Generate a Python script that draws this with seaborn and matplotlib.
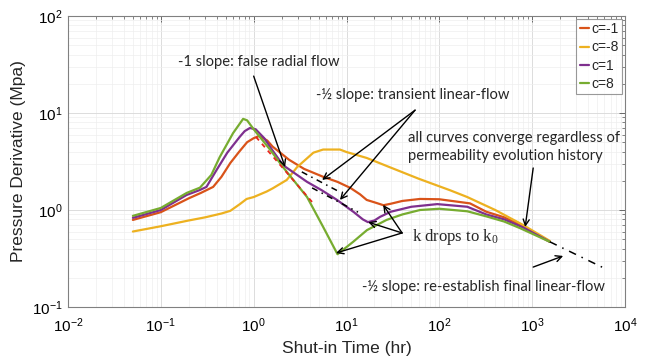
import numpy as np
import pandas as pd
import matplotlib
matplotlib.use("Agg")
import matplotlib.pyplot as plt
import seaborn as sns

# ---- data ----
t_cm1 = [0.05, 0.1, 0.2, 0.27, 0.366, 0.45, 0.56, 0.7, 0.85, 1.0, 1.15, 1.4, 1.6, 2.0, 2.4, 3.5,
         5.6, 8.0, 11, 14, 16.5, 20, 25, 30, 40, 62, 100, 214, 320, 500, 800, 1550]
p_cm1 = [0.79, 0.95, 1.32, 1.5, 1.73, 2.2, 3.05, 4.0, 5.0, 5.5, 5.8, 5.2, 4.5, 3.8, 3.3, 2.65,
         2.2, 1.95, 1.69, 1.45, 1.27, 1.2, 1.12, 1.16, 1.24, 1.3, 1.29, 1.17, 0.96, 0.84, 0.68, 0.47]

t_cm8 = [0.05, 0.1, 0.2, 0.3, 0.45, 0.56, 0.71, 0.84, 1.0, 1.38, 1.6, 2.27, 2.94, 4.4, 5.6, 8.5,
         10, 16.5, 29, 60, 130, 200, 400, 800, 1550]
p_cm8 = [0.60, 0.68, 0.78, 0.84, 0.92, 0.98, 1.15, 1.3, 1.36, 1.55, 1.67, 2.04, 2.77, 3.9, 4.2, 4.2,
         3.96, 3.44, 2.77, 2.1, 1.6, 1.36, 1.0, 0.70, 0.48]

t_c1 = [0.05, 0.1, 0.19, 0.26, 0.31, 0.4, 0.52, 0.71, 0.8, 0.91, 1.05, 1.3, 1.6, 2.07, 3.76,
        5.4, 7.9, 12, 15, 17, 20, 23, 30, 50, 95, 200, 320, 500, 800, 1550]
p_c1 = [0.83, 1.0, 1.43, 1.6, 1.73, 2.6, 3.9, 5.7, 6.5, 7.0, 6.8, 5.5, 4.1, 2.9, 1.95,
        1.6, 1.27, 0.95, 0.8, 0.75, 0.78, 0.85, 0.96, 1.08, 1.15, 1.08, 0.9, 0.8, 0.66, 0.47]

t_c8 = [0.05, 0.1, 0.19, 0.264, 0.35, 0.43, 0.6, 0.77, 0.85, 1.0, 1.5, 2.07, 3.76, 5.6, 8.0,
        11.8, 16.6, 27, 40, 62, 100, 200, 320, 500, 740, 1550]
p_c8 = [0.87, 1.05, 1.5, 1.7, 2.3, 3.5, 6.2, 8.7, 8.4, 6.8, 4.2, 2.77, 1.36, 0.67, 0.35,
        0.47, 0.62, 0.79, 0.9, 1.0, 1.03, 0.97, 0.86, 0.76, 0.65, 0.47]

labels = ["c=-1", "c=-8", "c=1", "c=8"]
colors = ["#D95319", "#EDB120", "#7E2F8E", "#77AC30"]

# reference slope lines
t_slope1 = [1.06, 4.26]
p_slope1 = [5.66, 1.21]
t_halfA = [3.3, 8.5]
p_halfA = [2.47, 1.53]
t_halfB = [4.26, 13.3]
p_halfB = [1.69, 0.95]
t_final = [1550, 6200]
p_final = [0.47, 0.247]

frames = []
for lab, t, p in zip(labels, [t_cm1, t_cm8, t_c1, t_c8], [p_cm1, p_cm8, p_c1, p_c8]):
    frames.append(pd.DataFrame({"t": t, "p": p, "case": lab}))
df = pd.concat(frames, ignore_index=True)

sns.set_theme(style="white")
plt.rcParams["font.family"] = ["Liberation Sans", "DejaVu Sans"]
plt.rcParams["mathtext.default"] = "regular"

fig = plt.figure(figsize=(6.48, 3.64), dpi=100)
ax = fig.add_axes([68 / 648, 1 - 307 / 364, (625 - 68) / 648, (307 - 16) / 364])

sns.lineplot(data=df, x="t", y="p", hue="case", hue_order=labels,
             palette=dict(zip(labels, colors)), sort=False, estimator=None,
             linewidth=1.6, ax=ax)

ax.plot(t_slope1, p_slope1, color="#E8271E", lw=1.3, ls=(0, (2.5, 2.5)))
ax.plot(t_halfA, p_halfA, color="black", lw=1.1, ls=(0, (4, 3, 1, 3)))
ax.plot(t_halfB, p_halfB, color="black", lw=1.1, ls=(0, (4, 3, 1, 3)))
ax.plot(t_final, p_final, color="black", lw=1.1, ls=(0, (5, 4, 1, 4)))

ax.set_xscale("log")
ax.set_yscale("log")
ax.set_xlim(1e-2, 1e4)
ax.set_ylim(1e-1, 1e2)

ax.grid(True, which="major", color="#dcdcdc", lw=0.7)
ax.grid(True, which="minor", color="#eeeeee", lw=0.5)
ax.tick_params(which="both", direction="in", top=True, right=True, colors="#555555",
               labelcolor="black", labelsize=11)
ax.tick_params(axis="x", which="major", pad=7)
ax.tick_params(axis="y", which="major", pad=4)
ax.tick_params(which="major", length=4, width=0.6)
ax.tick_params(which="minor", length=2, width=0.5)
for s in ax.spines.values():
    s.set_color("#808080")
    s.set_linewidth(0.8)

ax.set_xlabel("Shut-in Time (hr)", fontsize=12.5, labelpad=4)
ax.set_ylabel("Pressure Derivative (Mpa)", fontsize=12.5, labelpad=4)

leg = ax.legend(loc="upper right", fontsize=10, handlelength=0.7, handletextpad=0.15,
                labelspacing=0.3, borderpad=0.25, borderaxespad=0.2, frameon=True,
                fancybox=False, edgecolor="#808080")
leg.get_frame().set_linewidth(0.8)
for line in leg.get_lines():
    line.set_linewidth(1.6)

afont = dict(family=["Lato", "DejaVu Sans"], fontsize=10.6)
arrow = dict(arrowstyle="->", color="black", lw=1.0, mutation_scale=11, shrinkA=0, shrinkB=0)

ax.text(0.153, 33.6, "-1 slope: false radial flow", ha="left", va="center", **afont)
ax.annotate("", xy=(2.18, 2.77), xytext=(1.0, 24), arrowprops=arrow)

ax.text(4.7, 15.3, "-\u00bd slope: transient linear-flow", ha="left", va="center", **afont)
ax.annotate("", xy=(5.46, 2.04), xytext=(54.8, 10.7), arrowprops=arrow)
ax.annotate("", xy=(8.5, 1.27), xytext=(54.8, 10.7), arrowprops=arrow)

ax.text(46.1, 4.46, "all curves converge regardless of\npermeability evolution history",
        ha="left", va="center", linespacing=1.3, **afont)
ax.annotate("", xy=(841, 0.668), xytext=(1026, 2.71), arrowprops=arrow)

ax.text(50.9, 0.527, "k drops to k$_0$", ha="left", va="center",
        family=["Liberation Serif", "DejaVu Serif"], fontsize=12)
for xy in [(24.8, 1.13), (17.1, 0.75), (7.7, 0.36)]:
    ax.annotate("", xy=xy, xytext=(39.7, 0.58), arrowprops=arrow)

ax.text(14.7, 0.161, "-\u00bd slope: re-establish final linear-flow", ha="left", va="center", **afont)
ax.annotate("", xy=(2158, 0.336), xytext=(1026, 0.258), arrowprops=arrow)

fig.savefig("out.png", dpi=100)
